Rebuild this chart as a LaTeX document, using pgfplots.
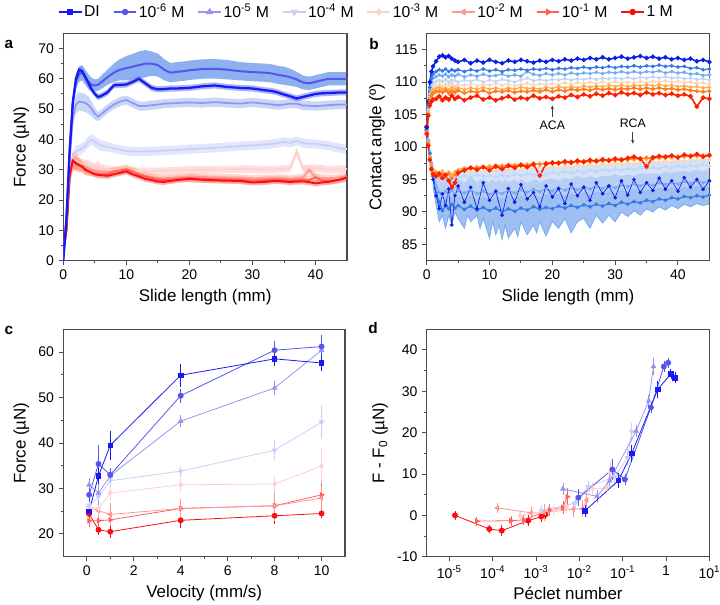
\documentclass[border=0pt]{standalone}
\usepackage{pgfplots}
\pgfplotsset{compat=1.18}
\usepackage{pgfplotstable}
\usetikzlibrary{arrows.meta}
\usepackage{fontspec}
\setmainfont{Liberation Sans}

\definecolor{cDI}{RGB}{25,25,245}
\definecolor{cSix}{RGB}{85,85,240}
\definecolor{cFive}{RGB}{150,150,242}
\definecolor{cFour}{RGB}{205,205,250}
\definecolor{cThree}{RGB}{255,208,208}
\definecolor{cTwo}{RGB}{255,150,150}
\definecolor{cOne}{RGB}{255,95,95}
\definecolor{cM}{RGB}{250,15,15}
\definecolor{bDI}{RGB}{110,130,240}
\definecolor{bSix}{RGB}{140,176,240}
\definecolor{bFive}{RGB}{200,214,248}
\definecolor{bFour}{RGB}{226,230,252}
\definecolor{bThree}{RGB}{255,222,222}
\definecolor{bTwo}{RGB}{255,196,190}
\definecolor{bOne}{RGB}{255,184,140}
\definecolor{bM}{RGB}{255,130,130}
\definecolor{pA}{RGB}{10,30,230}
\definecolor{pB}{RGB}{50,120,230}
\definecolor{pC}{RGB}{120,170,240}
\definecolor{pD}{RGB}{190,214,248}
\definecolor{pE}{RGB}{255,214,180}
\definecolor{pF}{RGB}{255,170,90}
\definecolor{pG}{RGB}{255,125,20}
\definecolor{pH}{RGB}{255,30,0}
\definecolor{pBand}{RGB}{140,180,240}
\definecolor{pBand2}{RGB}{196,214,248}

\pgfplotstableread{
x m1 e1 m2 e2 m3 e3 m4 e4 m5 e5 m6 e6 m7 e7 m8 e8
0 0 0.5 1 1 1 1 1 1 2 1 2 1 3 1.5 3 1.5
0.5 14 1.5 14 2 13 2 12 2 10 2 10 2 10 2 10 2
1 36 2 36 2.5 33 2.5 28 2.5 27 2.5 27 2.5 28 2.5 28 2.5
1.5 52 1.5 52 2.5 47 3 34 2 32 2.5 32 2.5 33 3 33 2.5
2 60 1.2 59 2.5 51.5 3 36 2 33 2 32.5 2.5 32.5 3 32 2
2.5 63 1 61.5 2.5 52.5 3 36.5 1.8 32.5 1.5 32 2 31.5 2.5 31.5 1.8
3 62.5 1 62 2.5 52.3 3 37 1.8 32 1.5 31.5 1.5 31 2 31 1.5
3.5 60.5 1 60.5 2.5 52 3 38 1.8 31.8 1.5 31 1.5 30 1.8 30 1.5
4 58.5 1 59 2.5 51.3 2.8 39.3 1.8 31.5 1.5 30.5 1.5 29.5 1.5 29.5 1.2
4.5 56.5 1 58 2.3 50 2.5 40 1.8 31 1.5 30 1.2 29 1.2 29 1
5 55 1 57.8 2 48.5 2 39.2 1.8 30.8 1.3 29.8 1.2 28.8 1.2 28.5 1
5.5 54 1 58 2 47.5 1.5 38.5 1.8 31.5 1.5 29.5 1.2 28.5 1.2 28.3 1
6 54.3 1 58.8 2.2 48.3 1.5 38 1.8 30.5 1.3 29.5 1.2 28.5 1.2 28.2 1
7 55.5 1 60.5 2.5 50 1.5 37.5 1.6 30.2 1.2 29.3 1.2 28.6 1.2 28 1
8 57.8 1 62 3 51.5 1.5 37 1.5 29.8 1.2 29.5 1.2 29.5 1.5 28.5 1
9 58 1 63 3.5 52.5 1.5 36.6 1.5 29.8 1.2 29.6 1.2 29.8 1.5 29 1
10 58.1 1 63.5 4 53 1.5 36.2 1.5 29.8 1.2 29.8 1.2 30.2 1.5 29.5 1
11 59 1 64 4.2 52 1.5 36 1.5 29.6 1.2 29.2 1.2 29.5 1.5 28.5 1
12 60 1 64.5 4.5 51 1.5 36 1.5 29.5 1.2 28.6 1.2 28.5 1.2 27.8 1
13 58.5 1 65 4.5 51 1.5 36 1.5 29.5 1.2 28 1.2 27.8 1.2 27 1
14 57 1 65 4 51.3 1.5 36.1 1.5 29.5 1.2 27.6 1.2 27.3 1.2 26.6 1
15 56.5 1 64.5 3.8 51.5 1.5 36.2 1.5 29.5 1.2 27.3 1.2 26.8 1.2 26.1 1
16 56.6 1 63 3.5 51.8 1.5 36.3 1.5 29.6 1.2 27.2 1.2 26.6 1.2 26 1
17 56.8 1 62 3.2 51.9 1.5 36.4 1.5 29.7 1.2 27.3 1.2 26.8 1.2 26.3 1
18 56.8 1 62.3 3.2 52 1.5 36.5 1.5 29.8 1.2 27.5 1.2 27 1.2 26.6 1
19 56.9 1 62.5 3.2 52.1 1.5 36.6 1.5 29.9 1.2 27.6 1.2 27.2 1.2 26.8 1
20 57 1 62.8 3.2 52.2 1.5 36.8 1.5 30 1.2 27.8 1.2 27.3 1.3 27 1
22 57.5 1 63.2 3.2 52 1.5 37 1.5 30 1.2 27.6 1.2 27 1.3 26.7 1
24 57.8 1 63.3 3.2 52.3 1.5 37.2 1.5 30 1.2 27.5 1.2 26.9 1.2 26.5 1
26 57.3 1 63 3.2 52 1.5 37.5 1.5 30.1 1.2 27.4 1.2 26.8 1.2 26.4 1
28 57 1 62.5 3 51.8 1.5 37.8 1.5 30.2 1.2 27.3 1.2 26.7 1.2 26.3 1
30 56.8 1 62.2 3 52.2 1.5 38 1.5 30.2 1.2 27.1 1.2 26.4 1.2 25.8 1
32 56.2 1 62 3 51.8 1.5 38.3 1.5 30 1.2 27.2 1.2 26.6 1.2 26 1
33 56 1 61.8 3 51.5 1.5 38.5 1.5 30 1.2 27.3 1.2 26.7 1.2 26.2 1
34 55.5 1 61.3 3 51.3 1.5 38.8 1.5 30.2 1.2 27.3 1.2 26.8 1.2 26.3 1
35 54.8 1 61 3 51.5 1.5 39.2 1.5 30.3 1.2 27.2 1.2 26.6 1.2 26.1 1
36 54.2 1 60.5 2.8 51.8 1.5 38.8 1.5 30.5 1.2 27.1 1.2 26.5 1.2 26 1
37 53.5 1 59.8 2.5 51.8 1.5 39.5 1.5 36 1.5 27.2 1.2 26.6 1.2 26.1 1
38 54 1 58.8 2.3 51.2 1.5 38.8 1.5 30.5 1.2 27.5 1.2 26.8 1.2 26.2 1
39 54.5 1 58.5 2.2 51.1 1.5 38.6 1.5 30.5 1.2 30 1.5 26.6 1.2 25.9 1
40 55 1 59 2.2 51 1.5 38.5 1.5 30.5 1.2 27.5 1.2 27.5 1.5 25.5 1
41 55.2 1 59.5 2.2 51.1 1.5 38.2 1.5 30.3 1.2 27.3 1.2 26.5 1.2 25.8 1
42 55.3 1 60 2.2 51.3 1.5 38 1.5 30 1.2 27.2 1.2 26.3 1.2 26 1
43 55.4 1 60 2.2 51.4 1.5 37.5 1.5 30.1 1.2 27.3 1.2 26.5 1.2 26.4 1
44 55.5 1 60 2.2 51.5 1.5 37 1.5 30.2 1.2 27.5 1.2 26.8 1.2 26.8 1
45 55.5 1 60 2.2 51.5 1.5 36.8 1.5 30.2 1.2 27.8 1.2 27.2 1.2 27.5 1
}\tabA

\pgfplotstableread{
x s1 s2 s3 s4 s5 s6 s7 s8
0 103.0 102.8 102.6 102.5 102.4 102.3 102.2 102.0
0.25 107.0 106.5 106.2 105.8 105.5 105.3 105.0 104.8
0.5 110.0 109.2 108.8 108.2 107.8 107.5 107.0 106.4
0.75 111.6 110.6 110.0 109.4 108.8 108.4 107.9 107.0
1 112.4 111.2 110.6 109.8 109.2 108.8 108.3 107.3
1.5 113.2 111.6 110.8 110.1 109.5 109.0 108.5 107.4
2 113.9 111.9 111.1 110.3 109.7 109.2 108.6 107.8
2.5 114.1 111.7 110.9 110.1 109.4 108.9 108.4 107.2
3 113.8 112.0 111.2 110.4 109.7 109.1 108.7 107.6
3.5 114.0 111.6 110.8 110.0 109.5 108.8 108.3 107.3
4 113.6 111.9 111.1 110.3 109.8 109.2 108.6 107.9
4.5 113.3 111.7 110.9 110.2 109.4 108.9 108.4 107.4
5 113.1 111.9 111.2 110.0 109.6 109.1 108.7 107.7
6 113.4 111.6 110.8 110.3 109.5 108.8 108.3 107.2
7 112.9 111.9 111.1 110.1 109.7 109.1 108.6 107.6
8 113.3 111.7 110.9 110.4 109.4 108.9 108.4 107.9
9 113.0 112.0 111.2 110.0 109.7 109.2 108.7 107.3
10 113.4 111.7 110.9 110.3 109.5 108.9 108.3 107.6
11 113.1 111.9 111.0 110.1 109.8 109.1 108.6 107.2
12 112.9 111.6 111.2 110.4 109.5 108.8 108.5 107.5
13 113.3 111.9 110.9 110.2 109.7 109.1 108.7 107.8
14 113.1 111.8 111.1 110.0 109.4 108.9 108.4 107.3
15 113.4 112.0 110.9 110.3 109.6 109.2 108.6 107.6
16 113.2 111.8 111.6 110.6 109.8 109.0 108.5 107.4
17 113.0 112.0 111.2 110.2 109.5 109.1 108.7 107.9
18 113.3 111.9 111.0 110.4 109.7 108.9 108.5 107.5
19 113.1 112.1 111.3 110.2 109.6 109.2 108.8 107.7
20 113.4 111.9 111.1 110.4 109.8 109.0 108.5 107.4
21 113.2 112.1 111.3 110.3 109.6 109.3 108.8 107.8
22 113.5 112.0 111.1 110.5 109.9 109.1 108.6 107.6
23 113.3 112.2 111.4 110.3 109.7 109.3 108.9 108.0
24 113.6 112.1 111.2 110.5 109.9 109.1 108.7 107.7
25 113.4 112.3 111.4 110.4 109.8 109.4 108.9 108.1
26 113.7 112.1 111.3 110.6 110.0 109.2 108.7 107.8
27 113.5 112.3 111.5 110.4 109.8 109.4 109.0 108.2
28 113.8 112.2 111.3 110.6 110.0 109.3 108.8 107.9
29 113.5 112.4 111.5 110.5 109.8 109.5 109.0 108.3
30 113.7 112.2 111.4 110.6 110.1 109.3 108.8 108.0
31 113.9 112.4 111.6 110.5 109.9 109.5 109.0 108.4
32 113.6 112.3 111.4 110.7 110.0 109.3 108.9 108.1
33 113.8 112.5 111.6 110.5 109.9 109.5 109.1 108.3
34 114.0 112.3 111.4 110.7 110.1 109.4 108.9 108.0
35 113.7 112.5 111.6 110.6 109.9 109.6 109.1 108.4
36 113.9 112.4 111.5 110.8 110.1 109.4 108.9 108.1
37 113.6 112.6 111.7 110.6 110.0 109.6 109.1 108.3
38 113.8 112.4 111.4 110.8 110.2 109.4 108.9 108.0
39 113.5 112.5 111.6 110.6 110.0 109.5 109.0 108.2
40 113.7 112.3 111.4 110.7 110.1 109.3 108.8 107.9
41 113.4 112.4 111.5 110.5 109.9 109.4 108.9 108.1
42 113.6 112.1 111.2 110.6 110.0 109.2 108.7 107.8
43 113.2 112.2 111.3 110.4 109.8 109.3 108.6 106.2
44 113.4 111.9 111.0 110.5 109.9 109.1 108.5 107.6
45 113.1 112.0 111.1 110.3 109.7 109.2 108.6 107.4
}\tabACA

\pgfplotstableread{
x r1 r2 r3 r4 r5 r6 r7 r8
0 102.5 102.6 102.7 102.8 102.9 103.0 103.1 103.2
0.25 100.5 100.8 101.0 101.2 101.0 100.8 100.5 100.2
0.5 98.5 99.0 99.2 99.0 98.8 98.5 98.2 98.0
0.75 96.5 97.2 97.5 97.6 97.5 97.2 96.9 96.6
1 95.0 95.5 96.0 96.5 96.5 96.3 96.1 95.8
1.5 92.5 93.0 94.0 95.5 96.0 96.2 96.0 95.5
2 90.5 91.5 93.0 95.0 95.8 96.0 95.6 95.9
2.5 92.8 90.2 92.5 95.3 96.0 96.3 95.8 95.2
3 91.0 91.0 93.2 95.0 95.8 95.8 95.4 95.7
3.5 93.5 90.5 92.6 95.4 96.2 96.1 95.9 94.8
4 88.0 91.2 93.4 95.1 95.9 95.7 95.2 93.8
4.5 92.5 90.6 92.8 95.5 96.1 96.2 95.7 94.5
5 94.0 91.0 93.3 95.3 96.0 96.5 96.2 96.0
6 91.5 90.4 92.9 95.6 96.3 96.8 96.6 96.4
7 93.8 90.9 93.4 95.4 96.1 96.6 96.9 96.8
8 90.5 90.3 92.8 95.7 96.4 97.0 96.7 96.5
9 94.5 90.7 93.2 95.5 96.2 96.8 97.0 96.9
10 91.8 90.2 92.7 95.6 96.5 97.1 96.8 96.4
11 93.2 90.6 93.1 95.4 96.3 96.9 97.2 97.0
12 89.5 90.0 92.8 95.7 96.6 97.2 97.0 96.6
13 93.6 90.5 93.3 95.5 96.4 97.0 97.3 97.1
14 91.5 90.1 92.9 95.8 96.7 97.3 97.1 96.8
15 94.2 90.6 93.4 95.6 96.5 97.1 97.4 97.2
16 92.0 90.3 93.0 95.9 96.8 97.4 97.2 96.9
17 93.0 90.8 93.5 95.7 96.6 97.2 97.5 97.3
18 90.8 90.4 93.1 96.0 96.9 97.5 97.3 95.6
19 94.0 90.7 93.6 95.8 96.7 97.3 97.6 97.4
20 92.3 90.5 93.2 96.1 97.0 97.6 97.4 97.6
21 93.6 90.9 93.7 95.9 96.8 97.4 97.7 97.5
22 91.3 90.6 93.3 96.2 97.1 97.7 97.5 97.8
23 94.3 91.0 93.8 96.0 96.9 97.5 97.8 97.6
24 92.5 90.7 93.4 96.3 97.2 97.8 97.6 97.9
25 93.8 91.1 93.9 96.1 97.0 97.6 97.9 97.7
26 91.8 90.8 93.5 96.4 97.3 97.9 97.7 98.0
27 94.5 91.2 94.0 96.2 97.1 97.7 98.0 97.8
28 92.8 90.9 93.6 96.5 97.4 98.0 97.8 98.1
29 94.0 91.3 94.1 96.3 97.2 97.8 98.1 97.9
30 92.2 91.0 93.7 96.6 97.5 98.1 97.9 98.2
31 94.8 91.5 94.2 96.4 97.3 97.9 98.2 98.0
32 92.6 91.2 93.9 96.7 97.6 98.2 98.0 98.3
33 95.0 91.6 94.3 96.5 97.4 98.0 98.3 98.5
34 93.0 91.4 94.0 96.8 97.7 98.3 98.1 98.2
35 94.5 91.8 94.4 96.6 97.5 98.1 98.4 97.0
36 93.3 91.6 94.1 96.9 97.8 98.4 98.2 98.4
37 95.2 92.0 94.5 96.7 97.6 98.2 98.5 98.6
38 93.5 91.8 94.2 97.0 97.9 98.5 98.3 98.5
39 94.8 92.2 94.6 96.8 97.7 98.3 98.6 98.7
40 93.2 92.0 94.3 97.1 98.0 98.6 98.4 98.4
41 95.3 92.4 94.7 96.9 97.8 98.4 98.7 98.8
42 93.8 92.2 94.4 97.2 98.1 98.7 98.5 98.6
43 95.0 92.5 94.8 97.0 97.9 98.5 98.8 98.9
44 93.5 92.3 94.5 97.3 98.2 98.8 98.6 98.5
45 94.8 92.6 94.7 97.1 98.0 98.6 98.9 98.7
}\tabRCA

\pgfplotstableread{
x up lo
1 97 94
1.5 95.5 91
2 95 88.5
2.5 94.5 89.5
3 95 87.5
3.5 94.5 89.5
4 95 88
4.5 94.5 90
5 95 89
6 94.5 87.5
6.5 95 89.5
7 95.5 88.5
8 94.5 89.5
8.5 95 87.5
9 95 89
10 94.5 86
10.5 95 88.5
11 94.5 86.5
11.5 95 88
12 94.5 85.8
12.5 95 88
13 94.5 86
14 95 87.5
14.5 94.5 86.2
15 95 88.5
16 94.5 86.5
17 95 88
17.5 95 86.8
18 94.5 88.5
19 95 86.3
20 95.2 88.5
21 94.8 87.5
22 95.2 89
23 95 86.8
24 95.5 88.5
25 95.2 89
26 95.5 87.5
27 95.2 89.5
28 95.5 88.3
29 95.5 89.5
30 95.8 88.5
31 95.5 90
32 95.8 89.3
33 95.5 90.2
34 96 89.5
35 95.8 90.5
36 96 90
37 95.8 90.8
38 96.2 90.3
39 96 91
40 96.2 90.5
41 96.3 91.2
42 96.2 90.8
43 96.5 91.3
44 96.3 91
45 96.5 91.2
}\tabBand

\pgfplotstableread{
x y e
0.1 25.0 0.8
0.5 32.8 1.2
1 39.5 2.7
4 54.9 2.0
8 58.5 1.0
10 57.6 1.2
}\cDI
\pgfplotstableread{
x y e
0.1 28.6 1.0
0.5 35.4 3.6
1 33.0 1.0
4 50.4 1.0
8 60.4 1.6
10 61.2 2.0
}\cSix
\pgfplotstableread{
x y e
0.1 30.8 1.0
0.5 29.0 2.0
1 32.8 1.0
4 44.8 0.8
8 52.1 1.0
10 60.4 2.5
}\cFive
\pgfplotstableread{
x y e
0.1 26.3 1.0
0.5 28.2 1.5
1 31.7 1.0
4 33.8 0.7
8 38.4 1.7
10 44.6 3.2
}\cFour
\pgfplotstableread{
x y e
0.1 25.8 1.0
0.5 25.6 1.0
1 29.0 1.0
4 30.8 1.0
8 31.0 1.3
10 34.9 3.2
}\cThree
\pgfplotstableread{
x y e
0.1 26.0 1.0
0.5 25.1 1.0
1 24.3 2.0
4 25.6 1.6
8 26.2 2.8
10 27.9 2.2
}\cTwo
\pgfplotstableread{
x y e
0.1 22.9 0.8
0.5 22.9 0.8
1 23.1 0.8
4 25.6 1.2
8 26.2 1.5
10 28.6 2.5
}\cOne
\pgfplotstableread{
x y e
0.1 24.4 0.6
0.5 20.9 0.6
1 20.5 0.9
4 23.0 1.2
8 24.0 1.2
10 24.5 0.5
}\cM

\pgfplotstableread{
x y e
0.0135 1.1 0.8
0.0794 8.4 1.2
0.162 15.0 1.5
0.646 30.5 1.5
1.29 34.2 0.6
1.62 33.3 0.8
}\dDI
\pgfplotstableread{
x y e
0.00955 4.3 1.5
0.0575 11.1 2.0
0.112 8.7 0.8
0.447 26.1 0.8
0.891 36.0 0.8
1.12 36.9 0.6
}\dSix
\pgfplotstableread{
x y e
0.00417 6.4 0.8
0.0257 4.6 1.0
0.0501 8.4 1.0
0.204 20.4 0.8
0.398 27.7 0.8
0.513 36.0 1.5
}\dFive
\pgfplotstableread{
x y e
0.00132 1.1 0.8
0.0081 3.0 1.0
0.0158 6.9 0.8
0.0646 9.3 1.5
0.129 13.9 1.5
0.162 20.2 1.5
}\dFour
\pgfplotstableread{
x y e
0.000427 0.0 0.8
0.00257 1.3 0.8
0.00501 2.0 0.8
0.0204 6.5 1.0
0.0427 6.6 1.0
0.0513 10.5 2.0
}\dThree
\pgfplotstableread{
x y e
0.000129 1.8 0.6
0.000759 0.6 0.8
0.00155 0.7 1.5
0.00724 1.5 1.2
0.0117 1.6 1.5
0.0148 3.7 1.5
}\dTwo
\pgfplotstableread{
x y e
0.0000427 -1.4 0.5
0.000263 -1.3 0.6
0.000513 -1.1 0.6
0.00204 1.3 0.8
0.00417 1.9 1.0
0.00525 4.5 1.5
}\dOne
\pgfplotstableread{
x y e
0.0000135 0.0 0.5
0.0000832 -3.3 0.5
0.000162 -3.7 0.7
0.000661 -1.3 0.8
0.00132 -0.3 0.8
0.00166 0.2 0.5
}\dM

\pgfplotsset{
  panel/.style={scale only axis, tick align=outside, tick pos=left,
    axis line style={draw=black!70, line width=0.9pt},
    major tick length=3.5pt, minor tick length=2pt,
    tick style={draw=black!70, line width=0.7pt},
    /pgf/number format/assume math mode=true,
    ticklabel style={font=\fontsize{10.5}{12}\selectfont},
    label style={font=\fontsize{12.7}{15}\selectfont},
    width=212pt, height=170.55pt, anchor=south west},
  bandA/.style={scale only axis, hide axis, anchor=south west,
    at={(47.475pt,258.225pt)}, width=212.8pt, height=170.55pt,
    xmin=0, xmax=45, ymin=0, ymax=75},
  bandB/.style={scale only axis, hide axis, anchor=south west,
    at={(320.025pt,258.225pt)}, width=212pt, height=170.55pt,
    xmin=0, xmax=45, ymin=82.5, ymax=117.5},
  acab/.style={mark=*, mark size=0.9pt, line width=0.9pt, forget plot},
  ser/.style={line width=0.6pt, mark size=1.9pt, forget plot,
    error bars/y dir=both, error bars/y explicit,
    error bars/error bar style={line width=0.5pt},
    error bars/error mark options={mark size=1.8pt, line width=0.5pt}},
}

\begin{document}
\begin{tikzpicture}
\path[use as bounding box] (0pt,0pt) rectangle (540pt,453.75pt);

\begin{axis}[bandA]
\addplot[draw=none, stack plots=y] table[x=x, y expr=\thisrow{m4}-\thisrow{e4}] {\tabA};
\addplot[draw=none, fill=bFour, stack plots=y] table[x=x, y expr=2*\thisrow{e4}] {\tabA} \closedcycle;
\end{axis}
\begin{axis}[bandA]
\addplot[draw=none, stack plots=y] table[x=x, y expr=\thisrow{m3}-\thisrow{e3}] {\tabA};
\addplot[draw=none, fill=bFive, stack plots=y] table[x=x, y expr=2*\thisrow{e3}] {\tabA} \closedcycle;
\end{axis}
\begin{axis}[bandA]
\addplot[draw=none, stack plots=y] table[x=x, y expr=\thisrow{m2}-\thisrow{e2}] {\tabA};
\addplot[draw=none, fill=bSix, stack plots=y] table[x=x, y expr=2*\thisrow{e2}] {\tabA} \closedcycle;
\end{axis}
\begin{axis}[bandA]
\addplot[draw=none, stack plots=y] table[x=x, y expr=\thisrow{m1}-\thisrow{e1}] {\tabA};
\addplot[draw=none, fill=bDI, fill opacity=0.6, stack plots=y] table[x=x, y expr=2*\thisrow{e1}] {\tabA} \closedcycle;
\end{axis}
\begin{axis}[bandA]
\addplot[draw=none, stack plots=y] table[x=x, y expr=\thisrow{m5}-\thisrow{e5}] {\tabA};
\addplot[draw=none, fill=bThree, stack plots=y] table[x=x, y expr=2*\thisrow{e5}] {\tabA} \closedcycle;
\end{axis}
\begin{axis}[bandA]
\addplot[draw=none, stack plots=y] table[x=x, y expr=\thisrow{m6}-\thisrow{e6}] {\tabA};
\addplot[draw=none, fill=bTwo, fill opacity=0.7, stack plots=y] table[x=x, y expr=2*\thisrow{e6}] {\tabA} \closedcycle;
\end{axis}
\begin{axis}[bandA]
\addplot[draw=none, stack plots=y] table[x=x, y expr=\thisrow{m7}-\thisrow{e7}] {\tabA};
\addplot[draw=none, fill=bOne, fill opacity=0.6, stack plots=y] table[x=x, y expr=2*\thisrow{e7}] {\tabA} \closedcycle;
\end{axis}
\begin{axis}[bandA]
\addplot[draw=none, stack plots=y] table[x=x, y expr=\thisrow{m8}-\thisrow{e8}] {\tabA};
\addplot[draw=none, fill=bM, fill opacity=0.6, stack plots=y] table[x=x, y expr=2*\thisrow{e8}] {\tabA} \closedcycle;
\end{axis}

\begin{axis}[panel, at={(47.475pt,258.225pt)}, width=212.8pt,
  xmin=0, xmax=45, ymin=0, ymax=75,
  xtick={0,10,...,40}, ytick={0,10,...,70},
  minor x tick num=1, minor y tick num=1,
  xlabel={Slide length (mm)}, ylabel={Force (µN)},
  legend columns=8,
  legend style={draw=none, fill=none, at={(1.0687,1.0937)}, anchor=center,
    font=\fontsize{11.8}{13}\selectfont,
    /tikz/every even column/.append style={column sep=8.5pt},
    inner sep=0pt, nodes={inner sep=1.5pt}}
]
\addlegendimage{cDI, line width=0.8pt, mark=square*, mark size=2pt}
\addlegendentry{DI}
\addlegendimage{cSix, line width=0.8pt, mark=*, mark size=2pt}
\addlegendentry{10\textsuperscript{-6} M}
\addlegendimage{cFive, line width=0.8pt, mark=triangle*, mark size=2.4pt}
\addlegendentry{10\textsuperscript{-5} M}
\addlegendimage{cFour, line width=0.8pt, mark=triangle*, mark options={rotate=180}, mark size=2.4pt}
\addlegendentry{10\textsuperscript{-4} M}
\addlegendimage{cThree, line width=0.8pt, mark=diamond*, mark size=2.4pt}
\addlegendentry{10\textsuperscript{-3} M}
\addlegendimage{cTwo, line width=0.8pt, mark=triangle*, mark options={rotate=90}, mark size=2.4pt}
\addlegendentry{10\textsuperscript{-2} M}
\addlegendimage{cOne, line width=0.8pt, mark=triangle*, mark options={rotate=-90}, mark size=2.4pt}
\addlegendentry{10\textsuperscript{-1} M}
\addlegendimage{cM, line width=0.8pt, mark=*, mark size=2pt}
\addlegendentry{1 M}
\addplot[cFour, line width=1.3pt, forget plot] table[x=x,y=m4] {\tabA};
\addplot[cThree, line width=1.3pt, forget plot] table[x=x,y=m5] {\tabA};
\addplot[cTwo, line width=1.3pt, forget plot] table[x=x,y=m6] {\tabA};
\addplot[cOne, line width=1.3pt, forget plot] table[x=x,y=m7] {\tabA};
\addplot[cM, line width=1.5pt, forget plot] table[x=x,y=m8] {\tabA};
\addplot[cFive, line width=1.3pt, forget plot] table[x=x,y=m3] {\tabA};
\addplot[cSix, line width=1.5pt, forget plot] table[x=x,y=m2] {\tabA};
\addplot[cDI, line width=1.7pt, forget plot] table[x=x,y=m1] {\tabA};
\end{axis}

% panel b bands
\begin{axis}[bandB]
\addplot[draw=none, stack plots=y] table[x=x, y=lo] {\tabBand};
\addplot[draw=none, fill=pBand, fill opacity=0.85, stack plots=y] table[x=x, y expr=\thisrow{up}-\thisrow{lo}] {\tabBand} \closedcycle;
\end{axis}
\begin{axis}[bandB]
\addplot[draw=none, stack plots=y] table[x=x, y expr=\thisrow{r3}-0.8] {\tabRCA};
\addplot[draw=none, fill=pBand2, fill opacity=0.7, stack plots=y] table[x=x, y expr=\thisrow{r5}-\thisrow{r3}+0.8] {\tabRCA} \closedcycle;
\end{axis}
\begin{axis}[panel, at={(320.025pt,258.225pt)},
  xmin=0, xmax=45, ymin=82.5, ymax=117.5,
  xtick={0,10,...,40}, ytick={85,90,...,115},
  minor x tick num=1, minor y tick num=1,
  xlabel={Slide length (mm)}, ylabel={Contact angle (º)}]
\addplot[pC, line width=0.6pt, forget plot] table[x=x,y=lo] {\tabBand};
\addplot[pE, acab] table[x=x,y=r5] {\tabRCA};
\addplot[pD, acab] table[x=x,y=r4] {\tabRCA};
\addplot[pC, acab] table[x=x,y=r3] {\tabRCA};
\addplot[pB, acab] table[x=x,y=r2] {\tabRCA};
\addplot[pA, acab, line width=0.5pt, mark size=1.1pt] table[x=x,y=r1] {\tabRCA};
\addplot[pF, acab] table[x=x,y=r6] {\tabRCA};
\addplot[pG, acab] table[x=x,y=r7] {\tabRCA};
\addplot[pH, acab, line width=1.2pt, mark size=1.1pt] table[x=x,y=r8] {\tabRCA};
\addplot[pE, acab] table[x=x,y=s5] {\tabACA};
\addplot[pD, acab] table[x=x,y=s4] {\tabACA};
\addplot[pC, acab] table[x=x,y=s3] {\tabACA};
\addplot[pB, acab] table[x=x,y=s2] {\tabACA};
\addplot[pA, acab, line width=1.1pt, mark size=1.1pt] table[x=x,y=s1] {\tabACA};
\addplot[pF, acab] table[x=x,y=s6] {\tabACA};
\addplot[pG, acab, line width=1.1pt] table[x=x,y=s7] {\tabACA};
\addplot[pH, acab, line width=1.2pt, mark size=1.1pt] table[x=x,y=s8] {\tabACA};
\draw[-{Stealth[length=3pt,width=2.5pt]}, black!75, line width=0.5pt] (axis cs:20,104.6) -- (axis cs:20,106.4);
\node[font=\fontsize{9.2}{11}\selectfont] at (axis cs:20,103.3) {ACA};
\node[font=\fontsize{9.2}{11}\selectfont] at (axis cs:32.8,103.6) {RCA};
\draw[-{Stealth[length=3pt,width=2.5pt]}, black!75, line width=0.5pt] (axis cs:32.8,102.3) -- (axis cs:32.8,100.5);
\end{axis}

\begin{axis}[panel, at={(47.475pt,36.225pt)}, width=211.3pt,
  xmin=-1, xmax=11, ymin=15, ymax=65,
  xtick={0,2,...,10}, ytick={20,30,...,60},
  minor x tick num=1, minor y tick num=1,
  xlabel={Velocity (mm/s)}, ylabel={Force (µN)}]
\addplot[cM, ser, mark=*] table[x=x,y=y,y error=e] {\cM};
\addplot[cOne, ser, mark=triangle*, mark options={rotate=-90}] table[x=x,y=y,y error=e] {\cOne};
\addplot[cTwo, ser, mark=triangle*, mark options={rotate=90}] table[x=x,y=y,y error=e] {\cTwo};
\addplot[cThree, ser, mark=diamond*] table[x=x,y=y,y error=e] {\cThree};
\addplot[cFour, ser, mark=triangle*, mark options={rotate=180}] table[x=x,y=y,y error=e] {\cFour};
\addplot[cFive, ser, mark=triangle*] table[x=x,y=y,y error=e] {\cFive};
\addplot[cSix, ser, mark=*] table[x=x,y=y,y error=e] {\cSix};
\addplot[cDI, ser, mark=square*, mark size=1.7pt] table[x=x,y=y,y error=e] {\cDI};
\end{axis}

\begin{axis}[panel, at={(320.025pt,36.225pt)},
  xmode=log, xmin=3e-6, xmax=10, ymin=-10, ymax=45,
  xtick={1e-5,1e-4,1e-3,1e-2,1e-1,1,10},
  xticklabels={10\textsuperscript{-5},10\textsuperscript{-4},10\textsuperscript{-3},10\textsuperscript{-2},10\textsuperscript{-1},1,10\textsuperscript{1}},
  xminorticks=false,
  ytick={-10,0,...,40}, minor y tick num=1,
  xlabel={Péclet number}, ylabel={F - F\textsubscript{0} (µN)}]
\addplot[cM, ser, mark=*] table[x=x,y=y,y error=e] {\dM};
\addplot[cOne, ser, mark=triangle*, mark options={rotate=-90}] table[x=x,y=y,y error=e] {\dOne};
\addplot[cTwo, ser, mark=triangle*, mark options={rotate=90}] table[x=x,y=y,y error=e] {\dTwo};
\addplot[cThree, ser, mark=diamond*] table[x=x,y=y,y error=e] {\dThree};
\addplot[cFour, ser, mark=triangle*, mark options={rotate=180}] table[x=x,y=y,y error=e] {\dFour};
\addplot[cFive, ser, mark=triangle*] table[x=x,y=y,y error=e] {\dFive};
\addplot[cSix, ser, mark=*] table[x=x,y=y,y error=e] {\dSix};
\addplot[cDI, ser, mark=square*, mark size=1.7pt] table[x=x,y=y,y error=e] {\dDI};
\end{axis}

\node[font=\bfseries\fontsize{11.5}{13}\selectfont] at (6.75pt,420.75pt) {a};
\node[font=\bfseries\fontsize{11.5}{13}\selectfont] at (280.5pt,420.75pt) {b};
\node[font=\bfseries\fontsize{11.5}{13}\selectfont] at (6.75pt,206.25pt) {c};
\node[font=\bfseries\fontsize{11.5}{13}\selectfont] at (279.75pt,207.75pt) {d};
\end{tikzpicture}
\end{document}
